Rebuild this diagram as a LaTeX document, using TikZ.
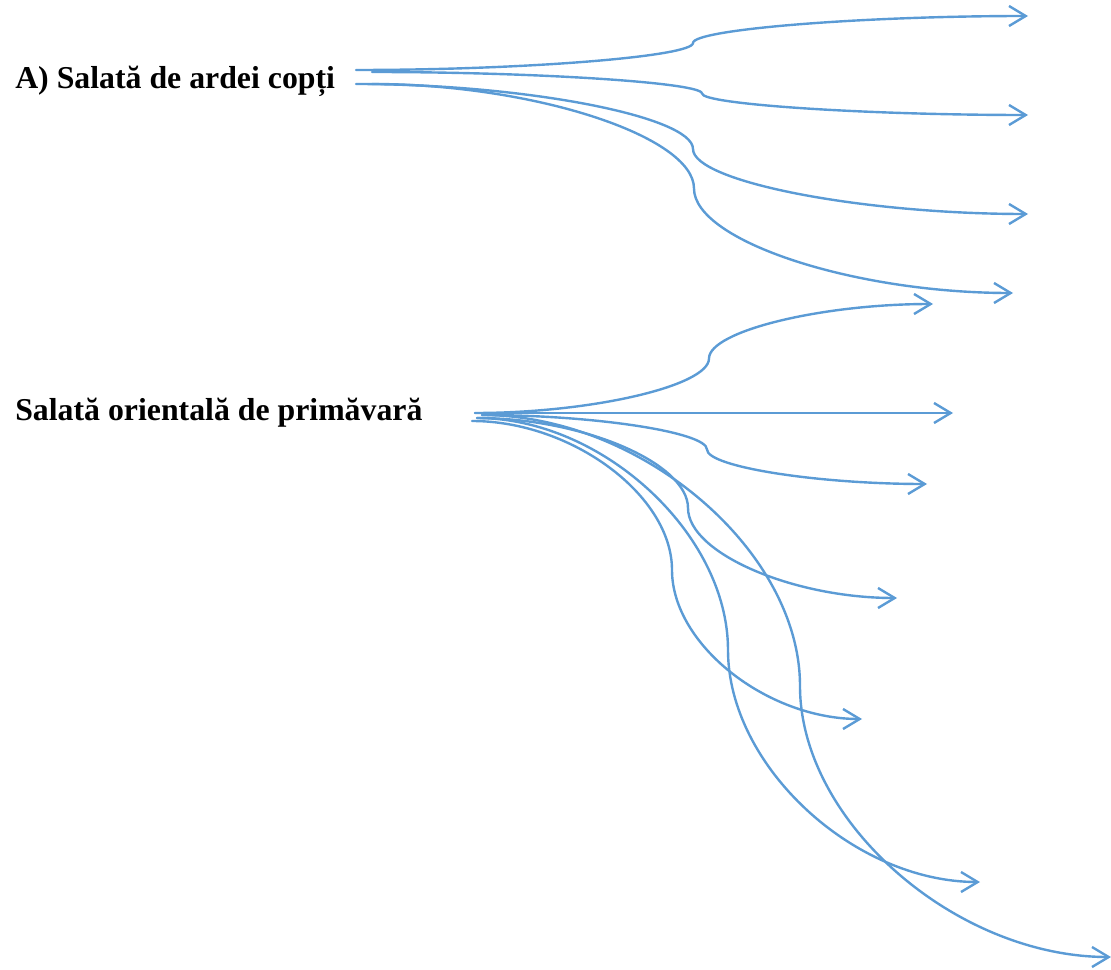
\documentclass[tikz,border=0pt]{standalone}
\usepackage{fontspec}
\setmainfont{Liberation Serif}
\usetikzlibrary{arrows.meta,calc}
\definecolor{wordblue}{HTML}{5B9BD5}
\tikzset{
  label/.style={anchor=base west, inner sep=0pt, font=\fontsize{23.85}{28}\selectfont\bfseries},
  conn/.style={draw=wordblue, line width=1.8pt, line cap=round, line join=round,
    -{Straight Barb[length=12.5pt, width=15pt, line width=1.8pt]}}
}
\newcommand{\curvconn}[3]{%
  \draw[conn] (#1) .. controls ($(#1)!0.5!(#1 -| #2)$) and ($(#2 |- #1)!0.5!(#2)$) .. (#2)
     .. controls ($(#2)!0.5!(#2 |- #3)$) and ($(#3 -| #2)!0.5!(#3)$) .. (#3);}
\begin{document}
\begin{tikzpicture}[x=0.75pt,y=-0.75pt]
\useasboundingbox (0,0) rectangle (1111,970);
\node[label] (t1) at (15,89) {A) Salată de ardei copți};
\node[label] (t2) at (15,420) {Salată orientală de primăvară};
% top group
\coordinate (s1) at (356,70);  \coordinate (m1) at (693,43);    \coordinate (e1) at (1028,16);
\coordinate (s2) at (372,72);  \coordinate (m2) at (702,93.5);  \coordinate (e2) at (1028,115);
\coordinate (s3) at (356,84);  \coordinate (m3) at (693,149);   \coordinate (e3) at (1028,214);
\coordinate (s4) at (372,84);  \coordinate (m4) at (694,188.5); \coordinate (e4) at (1013,293);
\curvconn{s1}{m1}{e1}
\curvconn{s2}{m2}{e2}
\curvconn{s3}{m3}{e3}
\curvconn{s4}{m4}{e4}
% bottom group
\coordinate (b1s) at (475,413); \coordinate (b1m) at (709,358.5); \coordinate (b1e) at (933,304);
\coordinate (b2s) at (475,413); \coordinate (b2m) at (715,413);   \coordinate (b2e) at (953,413);
\coordinate (b3s) at (482,415); \coordinate (b3m) at (707,449.5); \coordinate (b3e) at (927,484);
\coordinate (b4s) at (477,418); \coordinate (b4m) at (688,508);   \coordinate (b4e) at (897,598);
\coordinate (b5s) at (472,421); \coordinate (b5m) at (672,570);   \coordinate (b5e) at (862,719);
\coordinate (b6s) at (477,418); \coordinate (b6m) at (728,650);   \coordinate (b6e) at (980,882);
\coordinate (b7s) at (482,415); \coordinate (b7m) at (800,686);   \coordinate (b7e) at (1111,957);
\curvconn{b1s}{b1m}{b1e}
\curvconn{b2s}{b2m}{b2e}
\curvconn{b3s}{b3m}{b3e}
\curvconn{b4s}{b4m}{b4e}
\curvconn{b5s}{b5m}{b5e}
\curvconn{b6s}{b6m}{b6e}
\curvconn{b7s}{b7m}{b7e}
\end{tikzpicture}
\end{document}
